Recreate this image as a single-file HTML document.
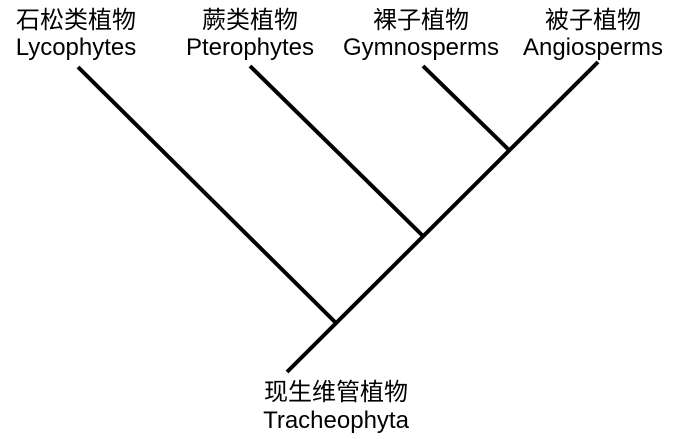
<!DOCTYPE html>
<html><head><meta charset="utf-8"><style>
html,body{margin:0;padding:0;background:#fff;}
</style></head><body>
<svg width="680" height="439" xmlns="http://www.w3.org/2000/svg" style="display:block">
<g stroke="#000" stroke-width="4" stroke-linecap="butt" fill="none">
<line x1="287" y1="372" x2="598" y2="62"/>
<line x1="78" y1="67" x2="337" y2="324"/>
<line x1="250" y1="66" x2="424" y2="237"/>
<line x1="423" y1="66" x2="510" y2="151"/>
</g>
<g font-family="Liberation Sans, Noto Sans CJK SC, sans-serif" font-size="24" text-anchor="middle" fill="#000">
<text x="76" y="28">石松类植物</text>
<text x="76" y="55">Lycophytes</text>
<text x="250" y="28">蕨类植物</text>
<text x="250" y="55">Pterophytes</text>
<text x="421" y="28">裸子植物</text>
<text x="421" y="55">Gymnosperms</text>
<text x="593" y="28">被子植物</text>
<text x="593" y="55">Angiosperms</text>
<text x="336" y="400">现生维管植物</text>
<text x="336" y="428">Tracheophyta</text>
</g>
</svg>
</body></html>
